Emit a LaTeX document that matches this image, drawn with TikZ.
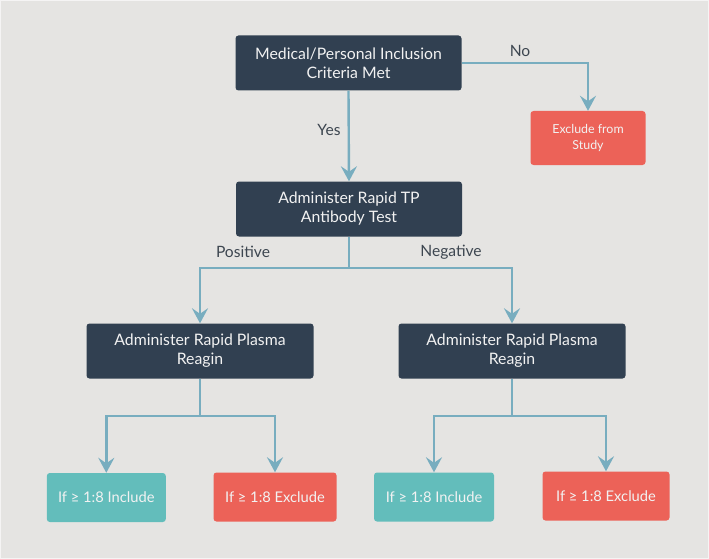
\documentclass[tikz,border=0pt]{standalone}
\usepackage{fontspec}
\setmainfont{Lato}
\usetikzlibrary{arrows.meta}
\definecolor{bgc}{HTML}{E5E4E2}
\definecolor{darkbox}{HTML}{314051}
\definecolor{redbox}{HTML}{EC6258}
\definecolor{tealbox}{HTML}{63BDBB}
\definecolor{linec}{HTML}{78ADBF}
\definecolor{labelc}{HTML}{3D4650}
\definecolor{boxtext}{HTML}{F2F2F2}
\tikzset{
  box/.style={rectangle, rounded corners=3pt, inner sep=0pt, align=center, text=boxtext},
  darkb/.style={box, fill=darkbox, minimum width=226pt, minimum height=55pt, font=\fontsize{15.8}{19}\selectfont},
  exclbig/.style={box, fill=redbox, minimum width=115pt, minimum height=54pt, font=\fontsize{12.4}{16}\selectfont},
  incb/.style={box, fill=tealbox, minimum height=49pt, font=\fontsize{14.7}{17}\selectfont},
  excb/.style={box, fill=redbox, minimum height=49pt, font=\fontsize{14.7}{17}\selectfont},
  conn/.style={draw=linec, line width=2.4pt},
  arr/.style={conn, -{Stealth[length=15pt, width=16pt, inset=5.5pt]}},
  lbl/.style={text=labelc, font=\fontsize{15.6}{18}\selectfont, inner sep=0pt},
}
\begin{document}
\begin{tikzpicture}[x=1pt, y=-1pt]
\fill[bgc] (0,0) rectangle (709,559);
\draw[white!60!bgc, line width=1pt] (0.5,0.5) rectangle (708.5,558.5);
\useasboundingbox (0,0) rectangle (709,559);

\node[darkb] (b1) at (348.5,63) {Medical/Personal Inclusion\\Criteria Met};
\node[exclbig] (ex) at (588,138) {Exclude from\\Study};
\node[darkb] (b2) at (349,209) {Administer Rapid TP\\Antibody Test};
\node[darkb, minimum width=227pt] (b3) at (200,351) {Administer Rapid Plasma\\Reagin};
\node[darkb, minimum width=227pt] (b4) at (512,351) {Administer Rapid Plasma\\Reagin};
\node[incb, minimum width=119pt] (i1) at (106.3,497.5) {If ≥ 1:8 Include};
\node[excb, minimum width=123pt] (e1) at (275,497) {If ≥ 1:8 Exclude};
\node[incb, minimum width=120pt] (i2) at (434,497) {If ≥ 1:8 Include};
\node[excb, minimum width=127pt] (e2) at (606,496) {If ≥ 1:8 Exclude};

\coordinate (j1) at (349,268);
\coordinate (j2) at (200,416);
\coordinate (j3) at (512,416);

\draw[arr] (b1.south) -- (b2.north);
\draw[arr] (b1.east) -| (ex.north);
\draw[conn] (b2.south) -- (j1);
\draw[arr] (j1) -| (b3.north);
\draw[arr] (j1) -| (b4.north);
\draw[conn] (b3.south) -- (j2);
\draw[arr] (j2) -| (i1.north);
\draw[arr] (j2) -| (e1.north);
\draw[conn] (b4.south) -- (j3);
\draw[arr] (j3) -| (i2.north);
\draw[arr] (j3) -| (e2.north);

\node[lbl] (lno) at (520,51) {No};
\node[lbl] (lyes) at (329,130) {Yes};
\node[lbl] (lpos) at (243,252) {Positive};
\node[lbl] (lneg) at (451,252) {Negative};
\end{tikzpicture}
\end{document}
